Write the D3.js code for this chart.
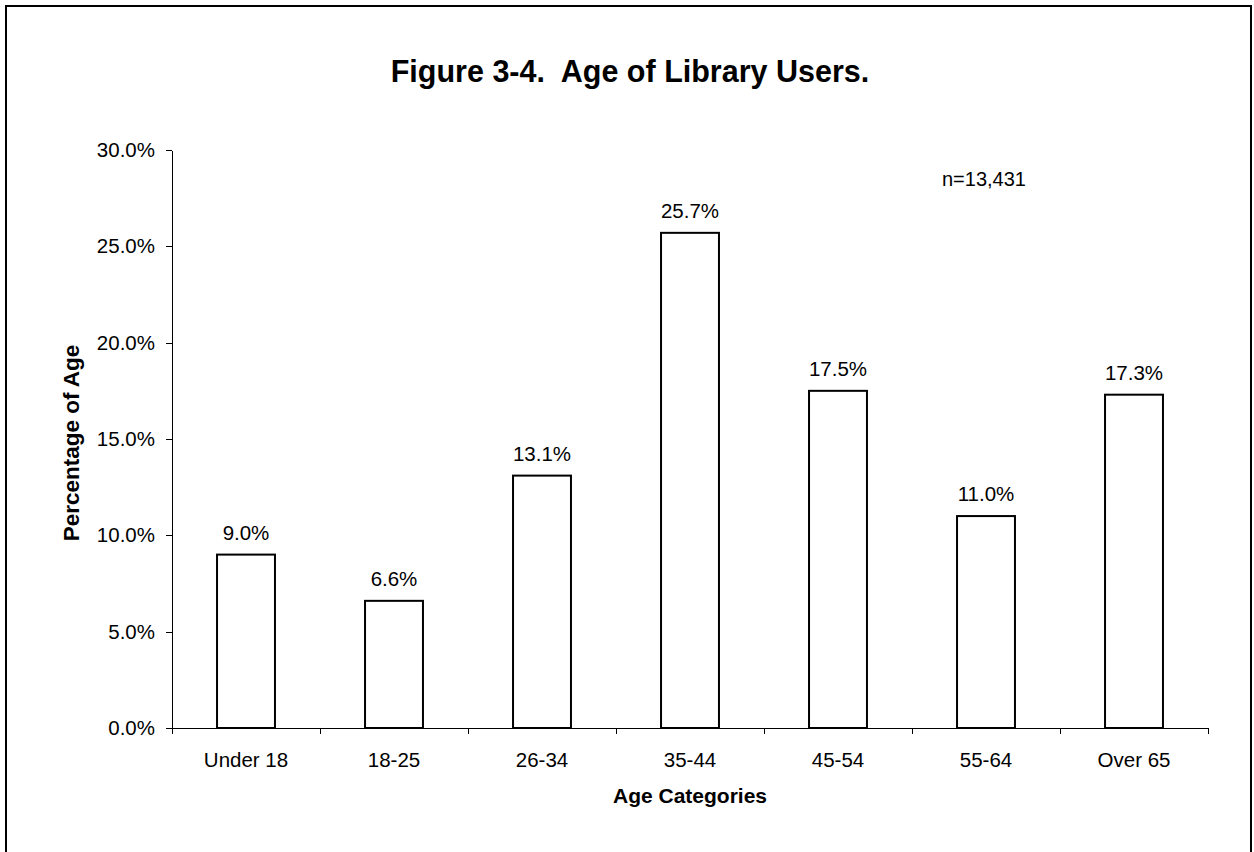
<!DOCTYPE html>
<html>
<head>
<meta charset="utf-8">
<script src="https://cdn.jsdelivr.net/npm/d3@7"></script>
<style>
  body { margin: 0; background: #fff; }
  svg { display: block; font-family: Arial, "Liberation Sans", sans-serif; }
  .axis path, .axis line { stroke: #000; shape-rendering: crispEdges; }
  .axis text { font-size: 20.5px; fill: #000; }
</style>
</head>
<body>
<script>
// age groups and share of users
let categories = ['Under 18', '18-25', '26-34', '35-44', '45-54', '55-64', 'Over 65'];
let percentages = [9.0, 6.6, 13.1, 25.7, 17.5, 11.0, 17.3];
let yTicks = [0, 5, 10, 15, 20, 25, 30];

let width = 1254;
let height = 852;
let margin = {left: 172, top: 150, right: 46, bottom: 124};
let plotW = width - margin.left - margin.right;
let plotH = height - margin.top - margin.bottom;

let svg = d3.select('body')
    .append('svg')
    .attr('width', width)
    .attr('height', height);

// outer frame (bottom edge runs off the page)
svg.append('rect')
    .attr('x', 6)
    .attr('y', 6)
    .attr('width', 1245)
    .attr('height', 900)
    .attr('fill', 'none')
    .attr('stroke', '#000')
    .attr('stroke-width', 2);

svg.append('text')
    .attr('x', 630)
    .attr('y', 82)
    .attr('text-anchor', 'middle')
    .attr('font-size', '30.5px')
    .attr('font-weight', 'bold')
    .style('white-space', 'pre')
    .text('Figure 3-4.  Age of Library Users.');

let g = svg.append('g')
    .attr('transform', 'translate(' + margin.left + ',' + margin.top + ')');

let pad = 0.595;
let x = d3.scaleBand()
    .domain(categories)
    .range([0, plotW])
    .paddingInner(pad)
    .paddingOuter(pad / 2);

let y = d3.scaleLinear()
    .domain([0, 30])
    .range([plotH, 0]);

// y axis
let yAxis = d3.axisLeft(y)
    .tickValues(yTicks)
    .tickFormat(function (d) { return d.toFixed(1) + '%'; })
    .tickSizeInner(6)
    .tickSizeOuter(0)
    .tickPadding(11);

g.append('g')
    .attr('class', 'axis')
    .call(yAxis);

// x axis: labels centred on the bars, ticks between categories
let xAxis = d3.axisBottom(x)
    .tickSize(0)
    .tickPadding(24);

let xg = g.append('g')
    .attr('class', 'axis')
    .attr('transform', 'translate(0,' + plotH + ')')
    .call(xAxis);

let bounds = d3.range(categories.length + 1).map(function (i) {
    return x.range()[0] + i * x.step();
});
xg.selectAll('.sep')
    .data(bounds)
    .enter()
    .append('line')
    .attr('class', 'sep')
    .attr('x1', function (d) { return d; })
    .attr('x2', function (d) { return d; })
    .attr('y1', 0)
    .attr('y2', 6);

// bars
g.selectAll('.bar')
    .data(percentages)
    .enter()
    .append('rect')
    .attr('class', 'bar')
    .attr('x', function (d, i) { return x(categories[i]) + 1; })
    .attr('y', function (d) { return y(d); })
    .attr('width', x.bandwidth() - 2)
    .attr('height', function (d) { return plotH - y(d); })
    .attr('fill', '#fff')
    .attr('stroke', '#000')
    .attr('stroke-width', 2);

// value labels
g.selectAll('.val')
    .data(percentages)
    .enter()
    .append('text')
    .attr('class', 'val')
    .attr('x', function (d, i) { return x(categories[i]) + x.bandwidth() / 2; })
    .attr('y', function (d) { return y(d) - 15; })
    .attr('text-anchor', 'middle')
    .attr('font-size', '20.5px')
    .text(function (d) { return d.toFixed(1) + '%'; });

// axis titles
g.append('text')
    .attr('x', plotW / 2)
    .attr('y', 803 - margin.top)
    .attr('text-anchor', 'middle')
    .attr('font-size', '21px')
    .attr('font-weight', 'bold')
    .text('Age Categories');

g.append('text')
    .attr('transform', 'translate(' + (79 - margin.left) + ',' + (plotH / 2 + 4) + ') rotate(-90)')
    .attr('text-anchor', 'middle')
    .attr('font-size', '22.5px')
    .attr('font-weight', 'bold')
    .text('Percentage of Age');

svg.append('text')
    .attr('x', 942)
    .attr('y', 186)
    .attr('font-size', '20px')
    .text('n=13,431');
</script>
</body>
</html>
